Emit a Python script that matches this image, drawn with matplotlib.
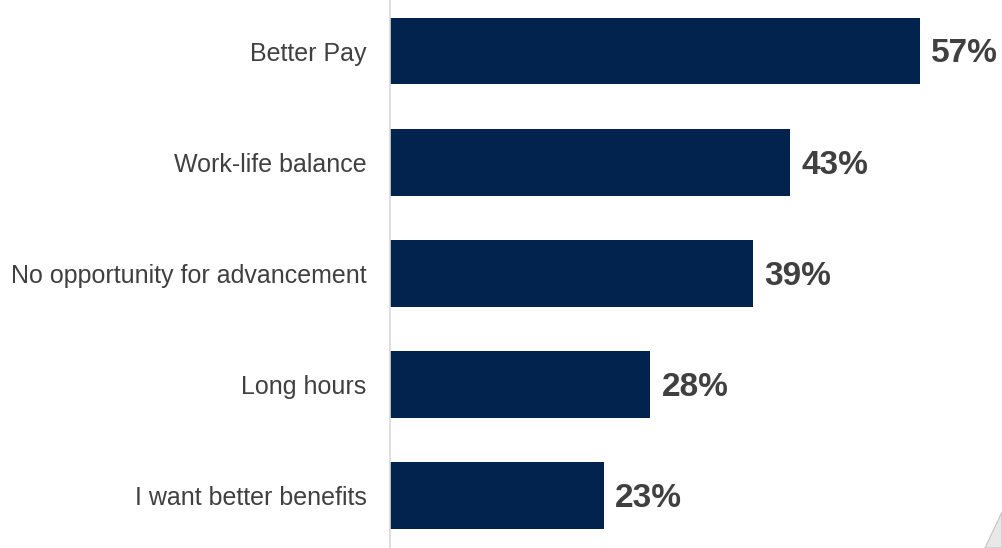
import matplotlib.pyplot as plt
from matplotlib.patches import Polygon

plt.rcParams['font.family'] = ['Liberation Sans', 'DejaVu Sans']

reasons = ["Better Pay", "Work-life balance", "No opportunity for advancement",
           "Long hours", "I want better benefits"]
shares = [57, 43, 39, 28, 23]

navy = "#03234f"
grey_text = "#404040"

fig = plt.figure(figsize=(10.02, 5.48), dpi=100)
ax = fig.add_axes([390 / 1002, 0, 1 - 390 / 1002, 1])

ypos = range(len(reasons))
ax.barh(ypos, shares, height=0.6, color=navy)

for y, v in zip(ypos, shares):
    ax.annotate(f"{v}%", xy=(v, y), xytext=(8, -2), textcoords="offset points",
                ha="left", va="center", fontsize=24, fontweight="bold",
                color=grey_text)

ax.set_yticks(list(ypos))
ax.set_yticklabels(reasons, fontsize=18, color=grey_text)
ax.tick_params(axis="y", length=0, pad=17)
ax.set_xticks([])
ax.set_xlim(0, 65.8)
ax.set_ylim(4.47, -0.46)

for side in ["top", "right", "bottom"]:
    ax.spines[side].set_visible(False)
ax.spines["left"].set_color("#d9d9d9")
ax.spines["left"].set_linewidth(1.2)

# small page-corner fold in the lower right
corner = Polygon([(1.0, 36 / 548), (985 / 1002, 0), (1.0, 0)], closed=True,
                 transform=fig.transFigure, facecolor="#e8e8e8",
                 edgecolor="#c4c4c4", linewidth=0.8)
fig.patches.append(corner)

fig.savefig("out.png", dpi=100)
